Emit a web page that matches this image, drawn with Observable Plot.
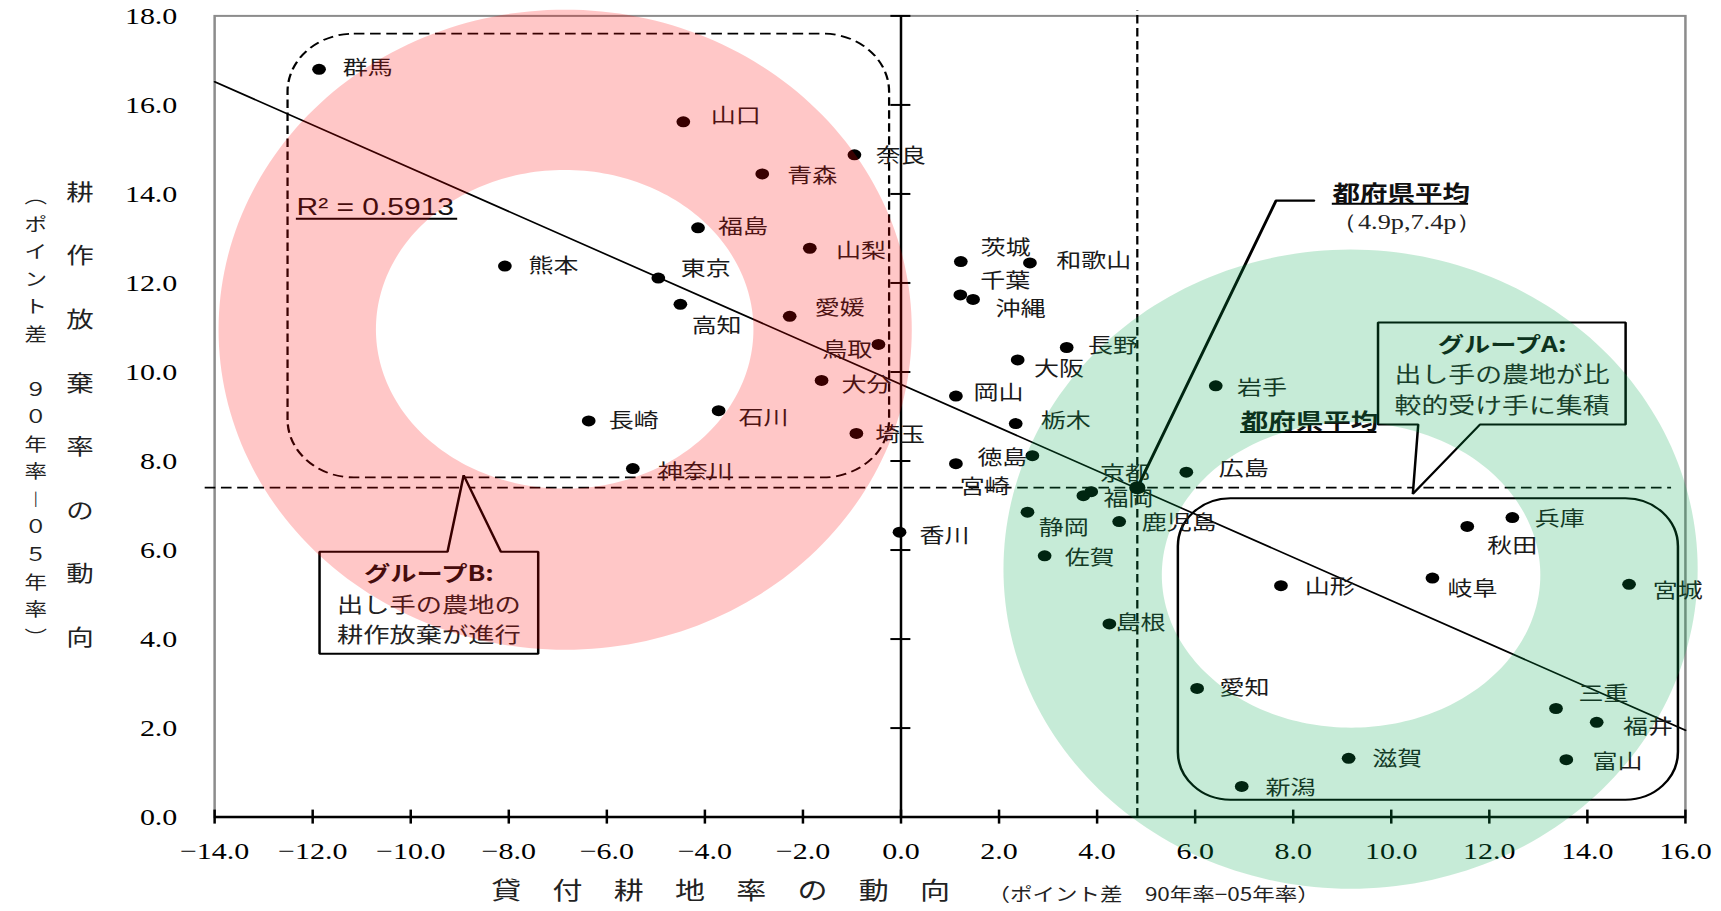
<!DOCTYPE html>
<html><head><meta charset="utf-8">
<script src="https://cdn.jsdelivr.net/npm/d3@7"></script>
<script src="https://cdn.jsdelivr.net/npm/@observablehq/plot@0.6"></script>
<style>
html,body{margin:0;padding:0;background:#fff;}
#chart svg{display:block;}
</style>
</head><body><div id="chart"></div>
<script>
// ---------------- data ----------------
const prefectures = ["群馬","山口","奈良","青森","福島","山梨","熊本","東京","高知","愛媛","鳥取","大分","石川","長崎","埼玉","神奈川","香川",
  "茨城","和歌山","千葉","沖縄","長野","大阪","岡山","栃木","徳島","宮崎","京都","福岡","広島","岩手","静岡","鹿児島","佐賀","島根",
  "兵庫","秋田","山形","岐阜","宮城","愛知","三重","福井","滋賀","富山","新潟"];
// x: 貸付耕地率の動向 (ポイント差 90年率−05年率)
const lendChange = [-11.87,-4.44,-0.95,-2.83,-4.14,-1.86,-8.08,-4.95,-4.50,-2.27,-0.46,-1.62,-3.72,-6.37,-0.91,-5.47,-0.03,
  1.22,2.63,1.21,1.47,3.38,2.38,1.12,2.34,2.68,1.12,3.88,3.72,5.82,6.42,2.58,4.45,2.93,4.25,
  12.47,11.55,7.75,10.84,14.85,6.04,13.36,14.19,9.13,13.57,6.95];
// y: 耕作放棄率の動向 (ポイント差 90年率−05年率)
const abandonChange = [16.80,15.62,14.88,14.45,13.24,12.78,12.38,12.11,11.52,11.25,10.62,9.81,9.13,8.90,8.62,7.83,6.40,
  12.48,12.45,11.73,11.63,10.55,10.27,9.46,8.84,8.12,7.94,7.31,7.22,7.75,9.69,6.85,6.64,5.87,4.34,
  6.73,6.53,5.20,5.37,5.23,2.89,2.44,2.13,1.32,1.29,0.69];

const xTicks = [-14,-12,-10,-8,-6,-4,-2,0,2,4,6,8,10,12,14,16];
const yTicks = [0,2,4,6,8,10,12,14,16,18];

// prefecture average
const avgPoint = [4.82, 7.4];
const avgText = ["都府県平均", "（4.9p,7.4p）"];
// trend line (regression) read at the frame edges
const trendX = [-14, 16];
const trendY = [16.52, 1.95];
const rSquaredText = "R² = 0.5913";

// annotation geometry (data units)
const regionBX = [-12.50, -0.23], regionBY = [7.62, 17.59];   // dashed rounded box
const regionAX = [5.66, 15.86],  regionAY = [0.38, 7.15];     // solid rounded box
const calloutBX = [-11.86,-9.25,-8.92,-8.16,-7.40,-7.40,-11.86];
const calloutBY = [5.96,5.96,7.68,5.96,5.96,3.67,3.67];
const calloutAX = [9.73,14.78,14.78,11.81,10.44,10.55,9.73];
const calloutAY = [11.11,11.11,8.82,8.82,7.26,8.82,8.82];
const calloutBText = ["グループB:", "出し手の農地の", "耕作放棄が進行"];
const calloutBTextX = -9.63, calloutBTextY = [5.46, 4.76, 4.09];
const calloutAText = ["グループA:", "出し手の農地が比", "較的受け手に集積"];
const calloutATextX = 12.26, calloutATextY = [10.60, 9.92, 9.24];
const leaderX = [4.82, 7.65, 8.42], leaderY = [7.4, 13.85, 13.85];
const avgLabelX = [8.80, 6.93], avgLabelY = [14.0, 8.87];
const avgSubX = 8.78, avgSubY = 13.36;
const underlineX1 = [-12.33, 8.80, 6.93], underlineX2 = [-9.04, 11.58, 9.71], underlineY = [13.44, 13.78, 8.65];
const rSquaredPos = [-12.33, 13.70];
const avgVLineTop = 18.12;
const avgHLineX = [-14.19, 15.72];
// shaded rings: centre, outer radii, inner centre, inner radii (data units)
const ringCX = [-6.85, 9.17], ringCY = [10.95, 5.57];
const ringOuterRX = [7.07, 7.08], ringOuterRY = [7.19, 7.18];
const ringInnerCX = [-6.86, 9.18], ringInnerCY = [10.96, 5.44];
const ringInnerRX = [3.85, 3.86], ringInnerRY = [3.58, 3.43];

const xTitle = "貸付耕地率の動向";
const xSubTitle = "（ポイント差　90年率−05年率）";
const yTitle = "耕\n作\n放\n棄\n率\nの\n動\n向";
const ySubTitle = "︵\nポ\nイ\nン\nト\n差\n　\n９\n０\n年\n率\n︱\n０\n５\n年\n率\n︶";

// label nudges (px)
const labelNudge = {
  群馬:[19,-1],山口:[22,-5],奈良:[17,2],青森:[20,3],福島:[16,0],山梨:[21,3],熊本:[19,1],東京:[18,-8],高知:[9,22],愛媛:[20,-8],
  鳥取:[-45,6],大分:[16,5],石川:[16,8],長崎:[16,1],埼玉:[15,2],神奈川:[20,4],香川:[16,4],茨城:[16,-13],和歌山:[21,-1],千葉:[16,-13],
  沖縄:[18,10],長野:[17,-1],大阪:[13,10],岡山:[14,-2],栃木:[20,-2],徳島:[-44,3],宮崎:[3,24],京都:[7,-17],福岡:[16,4],広島:[26,-3],
  岩手:[17,3],静岡:[9,16],鹿児島:[18,2],佐賀:[16,3],島根:[5,0],兵庫:[18,2],秋田:[16,20],山形:[19,2],岐阜:[12,12],宮城:[19,7],
  愛知:[18,0],三重:[18,-14],福井:[21,5],滋賀:[19,1],富山:[21,3],新潟:[19,2]
};

// ---------------- layout ----------------
const W = 1721, H = 911, S = 1.25;          // reference is stretched horizontally
const plotW = W / S;
const cjk = "'Noto Sans CJK JP','Noto Sans CJK SC',sans-serif";
const serif = "'Liberation Serif','DejaVu Serif',serif";
const sans = "'Liberation Sans',Arial,sans-serif";
const fmt = d3.format(".1f");
const dash = "8.5,4.5";

function ringPolygon(k) {
  const n = 240, pts = [];
  for (let j = 0; j <= n; j++) { const t = 2 * Math.PI * j / n; pts.push([ringCX[k] + ringOuterRX[k] * Math.cos(t), ringCY[k] + ringOuterRY[k] * Math.sin(t)]); }
  for (let j = n; j >= 0; j--) { const t = 2 * Math.PI * j / n; pts.push([ringInnerCX[k] + ringInnerRX[k] * Math.cos(t), ringInnerCY[k] + ringInnerRY[k] * Math.sin(t)]); }
  return pts;
}
const ringFill = ["rgb(255,0,0)", "rgb(0,165,76)"];
const ringOpacity = [0.22, 0.225];

const idx = (a) => a.map((_, i) => i);

const marks = [
  Plot.frame({stroke: "#8c8c8c", strokeWidth: 2}),
  Plot.rect([0], {x1: regionBX[0], x2: regionBX[1], y1: regionBY[0], y2: regionBY[1], rx: 53, ry: 58,
    fill: "none", stroke: "black", strokeWidth: 1.8, strokeDasharray: dash}),
  Plot.rect([0], {x1: regionAX[0], x2: regionAX[1], y1: regionAY[0], y2: regionAY[1], rx: 42, ry: 48,
    fill: "none", stroke: "black", strokeWidth: 2}),
  Plot.ruleX([avgPoint[0]], {x: d => d, y1: 0, y2: avgVLineTop, stroke: "black", strokeWidth: 1.8, strokeDasharray: dash}),
  Plot.ruleY([avgPoint[1]], {y: d => d, x1: avgHLineX[0], x2: avgHLineX[1], stroke: "black", strokeWidth: 1.8, strokeDasharray: dash}),
  Plot.line(trendX, {x: d => d, y: (d, i) => trendY[i], stroke: "black", strokeWidth: 1.6}),
  Plot.ruleX([0], {x: d => d, y1: 0, y2: 18, stroke: "black", strokeWidth: 2}),
  Plot.ruleY([0], {y: d => d, x1: -14, x2: 16, stroke: "black", strokeWidth: 2.5}),
  Plot.ruleX(xTicks, {x: d => d, y1: 0, y2: 0, insetTop: -7, insetBottom: -7, stroke: "black", strokeWidth: 2}),
  Plot.ruleY(yTicks.filter(v => v > 0), {y: d => d, x1: 0, x2: 0, insetLeft: -8, insetRight: -8, stroke: "black", strokeWidth: 2}),
  // callout boxes
  Plot.line(idx(calloutBX), {x: i => calloutBX[i], y: i => calloutBY[i], curve: "linear-closed", fill: "white", stroke: "black", strokeWidth: 2, strokeLinejoin: "miter"}),
  Plot.line(idx(calloutAX), {x: i => calloutAX[i], y: i => calloutAY[i], curve: "linear-closed", fill: "white", stroke: "black", strokeWidth: 2, strokeLinejoin: "miter"}),
  Plot.text([calloutBText[0]], {x: calloutBTextX, y: calloutBTextY[0], text: d => d, fontFamily: cjk, fontWeight: "bold", fontSize: 21, fill: "#111"}),
  Plot.text(calloutBText.slice(1), {x: calloutBTextX, y: (d, i) => calloutBTextY[i + 1], text: d => d, fontFamily: cjk, fontSize: 21, fill: "#222"}),
  Plot.text([calloutAText[0]], {x: calloutATextX, y: calloutATextY[0], text: d => d, fontFamily: cjk, fontWeight: "bold", fontSize: 21, fill: "#111"}),
  Plot.text(calloutAText.slice(1), {x: calloutATextX, y: (d, i) => calloutATextY[i + 1], text: d => d, fontFamily: cjk, fontSize: 21.5, fill: "#222"}),
  // R squared
  Plot.text([rSquaredText], {x: rSquaredPos[0], y: rSquaredPos[1], text: d => d, textAnchor: "start", fontFamily: sans, fontSize: 24, fill: "#111"}),
  Plot.ruleY(idx(underlineY), {y: i => underlineY[i], x1: i => underlineX1[i], x2: i => underlineX2[i], stroke: "black", strokeWidth: 2}),
  // points
  Plot.dot(prefectures, {x: (d, i) => lendChange[i], y: (d, i) => abandonChange[i], r: 5.5, fill: "black", stroke: "none"}),
  ...prefectures.map((name, i) => Plot.text([name], {
    x: () => lendChange[i], y: () => abandonChange[i], text: d => d,
    dx: labelNudge[name][0], dy: labelNudge[name][1], textAnchor: "start",
    fontFamily: cjk, fontSize: 20, fill: "#1a1a1a"})),
  // average callout
  Plot.line(leaderX, {x: d => d, y: (d, i) => leaderY[i], stroke: "black", strokeWidth: 2.4}),
  Plot.dot([0], {x: avgPoint[0], y: avgPoint[1], r: 6.5, fill: "black"}),
  Plot.text(idx(avgLabelX), {x: i => avgLabelX[i], y: i => avgLabelY[i], text: () => avgText[0], textAnchor: "start",
    fontFamily: cjk, fontWeight: "bold", fontSize: 22, fill: "#111"}),
  Plot.text([avgText[1]], {x: avgSubX, y: avgSubY, text: d => d, textAnchor: "start", fontFamily: serif, fontSize: 21, fill: "#222"}),
  // translucent rings (drawn over everything, like the reference)
  ...[0, 1].map(k => Plot.line(ringPolygon(k), {x: d => d[0], y: d => d[1], fill: ringFill[k], fillOpacity: ringOpacity[k], stroke: "none"})),
  // axis titles
  Plot.text([xTitle], {text: d => d, frameAnchor: "bottom-left", dx: 392.5 - 214 / S, dy: 81.5, textAnchor: "start",
    fontFamily: cjk, fontSize: 24, fill: "#222"}),
  Plot.text([xSubTitle], {text: d => d, frameAnchor: "bottom-left", dx: 789.5 - 214 / S, dy: 84, textAnchor: "start",
    fontFamily: cjk, fontSize: 18, fill: "#222"}),
  Plot.text([yTitle], {text: d => d, frameAnchor: "left", dx: 52.5 - 214 / S, dy: -14.5, lineHeight: 2.89,
    fontFamily: cjk, fontSize: 22, fill: "#222"}),
  Plot.text([ySubTitle], {text: d => d, frameAnchor: "left", dx: 19.2 - 214 / S, dy: -2, lineHeight: 1.53,
    fontFamily: cjk, fontSize: 18, fill: "#222"})
];

const svg = Plot.plot({
  width: plotW, height: H,
  marginLeft: 214 / S, marginRight: (W - 1684.8) / S, marginTop: 15.4, marginBottom: 94.4,
  x: {domain: [-14, 16], ticks: xTicks, tickFormat: fmt, tickSize: 0, tickPadding: 25, label: null},
  y: {domain: [0, 18], ticks: yTicks, tickFormat: fmt, tickSize: 0, tickPadding: 29.8, label: null},
  style: {fontFamily: serif, fontSize: "24px", color: "black", background: "white", overflow: "visible"},
  marks
});

// stretch horizontally like the reference picture
svg.setAttribute("width", W);
svg.setAttribute("height", H);
svg.setAttribute("preserveAspectRatio", "none");
svg.style.width = W + "px";
svg.style.height = H + "px";
svg.style.maxWidth = "none";
svg.querySelectorAll("text").forEach(t => {
  if (t.textContent === xTitle) t.style.letterSpacing = "25px";
});
document.getElementById("chart").appendChild(svg);
</script>
</body></html>
